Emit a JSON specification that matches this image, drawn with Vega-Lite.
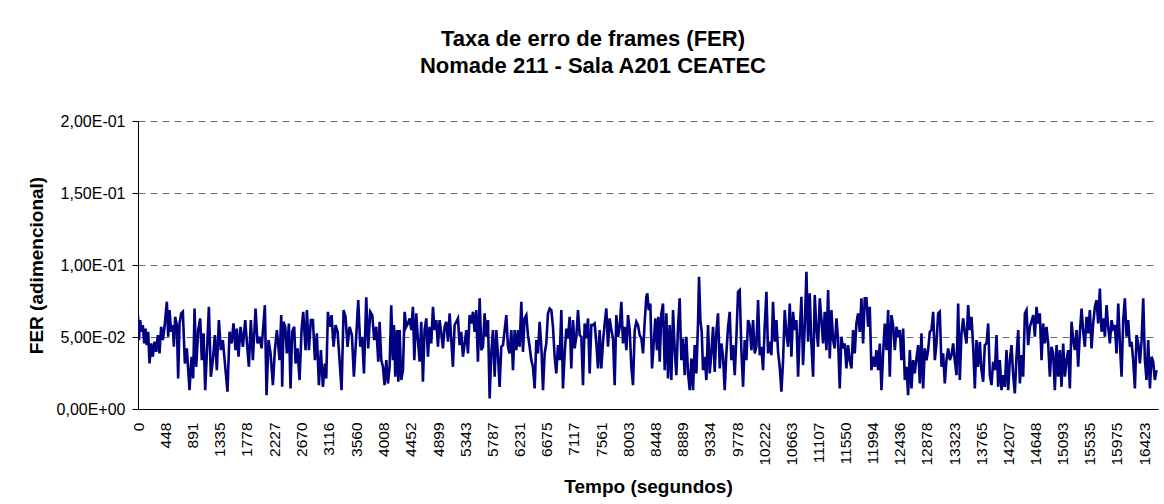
{
"$schema": "https://vega.github.io/schema/vega-lite/v6.json",
"width": 1020,
"height": 288,
"autosize": {"type": "none"},
"padding": {"left": 138, "top": 121, "right": 6, "bottom": 95},
"background": "white",
"title": {"text": ["Taxa de erro de frames (FER)", "Nomade 211 - Sala A201 CEATEC"], "font": "Liberation Sans", "fontSize": 22, "fontWeight": "bold", "color": "black", "anchor": "middle", "frame": "group", "dx": -55, "offset": 35, "lineHeight": 27},
"data": {"values": [
{"t":0,"fer":0.0652},{"t":14,"fer":0.0478},{"t":35,"fer":0.0617},{"t":57,"fer":0.0536},{"t":79,"fer":0.0583},{"t":101,"fer":0.0455},{"t":122,"fer":0.0559},{"t":144,"fer":0.0444},{"t":166,"fer":0.0536},{"t":188,"fer":0.0316},
{"t":215,"fer":0.0455},{"t":242,"fer":0.0363},{"t":269,"fer":0.0467},{"t":297,"fer":0.0397},{"t":324,"fer":0.0513},{"t":351,"fer":0.0386},{"t":378,"fer":0.0571},{"t":406,"fer":0.0478},{"t":433,"fer":0.0571},{"t":471,"fer":0.0745},
{"t":493,"fer":0.0502},{"t":514,"fer":0.0687},{"t":542,"fer":0.0536},{"t":569,"fer":0.0583},{"t":585,"fer":0.0432},{"t":607,"fer":0.0640},{"t":634,"fer":0.0583},{"t":656,"fer":0.0212},{"t":678,"fer":0.0594},{"t":705,"fer":0.0664},
{"t":732,"fer":0.0675},{"t":765,"fer":0.0316},{"t":797,"fer":0.0421},{"t":841,"fer":0.0131},{"t":874,"fer":0.0363},{"t":901,"fer":0.0212},{"t":923,"fer":0.0698},{"t":950,"fer":0.0293},{"t":982,"fer":0.0548},{"t":1015,"fer":0.0629},
{"t":1042,"fer":0.0339},{"t":1070,"fer":0.0525},{"t":1097,"fer":0.0131},{"t":1129,"fer":0.0432},{"t":1157,"fer":0.0710},{"t":1189,"fer":0.0224},{"t":1222,"fer":0.0339},{"t":1255,"fer":0.0513},{"t":1287,"fer":0.0270},{"t":1320,"fer":0.0617},
{"t":1353,"fer":0.0409},{"t":1385,"fer":0.0478},{"t":1429,"fer":0.0270},{"t":1461,"fer":0.0120},{"t":1494,"fer":0.0536},{"t":1527,"fer":0.0455},{"t":1559,"fer":0.0594},{"t":1592,"fer":0.0409},{"t":1614,"fer":0.0559},{"t":1641,"fer":0.0363},
{"t":1674,"fer":0.0571},{"t":1712,"fer":0.0432},{"t":1750,"fer":0.0617},{"t":1777,"fer":0.0467},{"t":1810,"fer":0.0293},{"t":1842,"fer":0.0617},{"t":1875,"fer":0.0339},{"t":1919,"fer":0.0698},{"t":1951,"fer":0.0455},{"t":1984,"fer":0.0502},
{"t":2017,"fer":0.0421},{"t":2049,"fer":0.0594},{"t":2071,"fer":0.0721},{"t":2098,"fer":0.0096},{"t":2131,"fer":0.0478},{"t":2164,"fer":0.0386},{"t":2202,"fer":0.0166},{"t":2234,"fer":0.0409},{"t":2267,"fer":0.0548},{"t":2311,"fer":0.0339},
{"t":2338,"fer":0.0652},{"t":2354,"fer":0.0154},{"t":2376,"fer":0.0606},{"t":2403,"fer":0.0571},{"t":2430,"fer":0.0386},{"t":2463,"fer":0.0594},{"t":2490,"fer":0.0143},{"t":2517,"fer":0.0536},{"t":2550,"fer":0.0571},{"t":2572,"fer":0.0316},
{"t":2604,"fer":0.0421},{"t":2637,"fer":0.0201},{"t":2670,"fer":0.0548},{"t":2697,"fer":0.0675},{"t":2735,"fer":0.0409},{"t":2757,"fer":0.0687},{"t":2790,"fer":0.0409},{"t":2822,"fer":0.0617},{"t":2855,"fer":0.0617},{"t":2888,"fer":0.0339},
{"t":2920,"fer":0.0525},{"t":2953,"fer":0.0166},{"t":2986,"fer":0.0409},{"t":3018,"fer":0.0154},{"t":3051,"fer":0.0316},{"t":3073,"fer":0.0212},{"t":3100,"fer":0.0675},{"t":3127,"fer":0.0571},{"t":3160,"fer":0.0652},{"t":3192,"fer":0.0432},
{"t":3225,"fer":0.0583},{"t":3258,"fer":0.0536},{"t":3290,"fer":0.0339},{"t":3323,"fer":0.0131},{"t":3356,"fer":0.0687},{"t":3388,"fer":0.0640},{"t":3421,"fer":0.0432},{"t":3454,"fer":0.0571},{"t":3492,"fer":0.0513},{"t":3524,"fer":0.0224},
{"t":3562,"fer":0.0502},{"t":3595,"fer":0.0756},{"t":3628,"fer":0.0432},{"t":3660,"fer":0.0502},{"t":3688,"fer":0.0247},{"t":3726,"fer":0.0775},{"t":3758,"fer":0.0421},{"t":3791,"fer":0.0675},{"t":3824,"fer":0.0652},{"t":3856,"fer":0.0478},
{"t":3889,"fer":0.0571},{"t":3922,"fer":0.0328},
{"t":3944,"fer":0.0606},{"t":3971,"fer":0.0339},{"t":3998,"fer":0.0293},{"t":4025,"fer":0.0166},{"t":4053,"fer":0.0339},{"t":4080,"fer":0.0177},{"t":4107,"fer":0.0293},{"t":4134,"fer":0.0721},{"t":4161,"fer":0.0339},{"t":4178,"fer":0.0583},
{"t":4200,"fer":0.0224},{"t":4227,"fer":0.0548},{"t":4249,"fer":0.0189},{"t":4270,"fer":0.0548},{"t":4297,"fer":0.0201},{"t":4325,"fer":0.0270},{"t":4352,"fer":0.0675},{"t":4379,"fer":0.0571},{"t":4406,"fer":0.0594},{"t":4434,"fer":0.0629},
{"t":4461,"fer":0.0548},{"t":4488,"fer":0.0710},{"t":4510,"fer":0.0339},{"t":4542,"fer":0.0664},{"t":4570,"fer":0.0478},{"t":4597,"fer":0.0328},{"t":4624,"fer":0.0606},{"t":4651,"fer":0.0189},{"t":4678,"fer":0.0548},{"t":4706,"fer":0.0629},
{"t":4733,"fer":0.0363},{"t":4760,"fer":0.0571},{"t":4787,"fer":0.0455},{"t":4815,"fer":0.0710},{"t":4842,"fer":0.0548},{"t":4869,"fer":0.0617},{"t":4896,"fer":0.0432},{"t":4923,"fer":0.0617},{"t":4951,"fer":0.0525},{"t":4978,"fer":0.0421},
{"t":5005,"fer":0.0571},{"t":5032,"fer":0.0606},{"t":5060,"fer":0.0467},{"t":5087,"fer":0.0664},{"t":5114,"fer":0.0478},{"t":5141,"fer":0.0293},{"t":5168,"fer":0.0583},{"t":5196,"fer":0.0606},{"t":5223,"fer":0.0629},{"t":5250,"fer":0.0444},
{"t":5277,"fer":0.0536},{"t":5304,"fer":0.0363},{"t":5332,"fer":0.0455},{"t":5359,"fer":0.0548},{"t":5386,"fer":0.0386},{"t":5413,"fer":0.0652},{"t":5441,"fer":0.0594},{"t":5468,"fer":0.0675},{"t":5495,"fer":0.0536},{"t":5522,"fer":0.0687},
{"t":5549,"fer":0.0328},{"t":5577,"fer":0.0768},{"t":5604,"fer":0.0409},{"t":5631,"fer":0.0432},{"t":5658,"fer":0.0664},{"t":5685,"fer":0.0502},{"t":5713,"fer":0.0617},{"t":5740,"fer":0.0073},{"t":5767,"fer":0.0386},{"t":5794,"fer":0.0548},
{"t":5822,"fer":0.0224},{"t":5849,"fer":0.0548},{"t":5876,"fer":0.0374},{"t":5903,"fer":0.0154},{"t":5930,"fer":0.0432},{"t":5958,"fer":0.0444},{"t":5985,"fer":0.0548},{"t":6012,"fer":0.0652},{"t":6039,"fer":0.0432},{"t":6066,"fer":0.0386},
{"t":6094,"fer":0.0548},{"t":6121,"fer":0.0270},{"t":6148,"fer":0.0548},{"t":6175,"fer":0.0409},{"t":6203,"fer":0.0548},{"t":6230,"fer":0.0432},{"t":6257,"fer":0.0745},{"t":6284,"fer":0.0397},{"t":6311,"fer":0.0629},{"t":6339,"fer":0.0652},
{"t":6366,"fer":0.0513},{"t":6393,"fer":0.0432},{"t":6420,"fer":0.0339},{"t":6447,"fer":0.0293},{"t":6475,"fer":0.0143},{"t":6502,"fer":0.0478},{"t":6529,"fer":0.0386},{"t":6556,"fer":0.0606},{"t":6584,"fer":0.0432},{"t":6611,"fer":0.0131},
{"t":6638,"fer":0.0386},{"t":6665,"fer":0.0455},{"t":6692,"fer":0.0664},{"t":6720,"fer":0.0698},{"t":6747,"fer":0.0687},{"t":6774,"fer":0.0571},{"t":6801,"fer":0.0363},{"t":6828,"fer":0.0247},{"t":6856,"fer":0.0444},{"t":6883,"fer":0.0339},
{"t":6910,"fer":0.0687},{"t":6937,"fer":0.0143},{"t":6965,"fer":0.0386},{"t":6992,"fer":0.0559},{"t":7019,"fer":0.0490},{"t":7046,"fer":0.0640},{"t":7073,"fer":0.0282},{"t":7101,"fer":0.0617},{"t":7128,"fer":0.0421},{"t":7155,"fer":0.0502},
{"t":7182,"fer":0.0687},{"t":7210,"fer":0.0513},{"t":7237,"fer":0.0502},{"t":7264,"fer":0.0166},{"t":7291,"fer":0.0594},{"t":7318,"fer":0.0490},{"t":7346,"fer":0.0629},{"t":7373,"fer":0.0247},{"t":7400,"fer":0.0583},{"t":7427,"fer":0.0583},
{"t":7454,"fer":0.0594},{"t":7482,"fer":0.0455},{"t":7509,"fer":0.0282},{"t":7536,"fer":0.0548},{"t":7563,"fer":0.0282},{"t":7591,"fer":0.0467},{"t":7618,"fer":0.0594},{"t":7645,"fer":0.0698},{"t":7672,"fer":0.0432},{"t":7699,"fer":0.0629},
{"t":7727,"fer":0.0548},{"t":7754,"fer":0.0490},{"t":7781,"fer":0.0166},{"t":7808,"fer":0.0652},{"t":7836,"fer":0.0502},{"t":7863,"fer":0.0571},{"t":7890,"fer":0.0745},{"t":7917,"fer":0.0455},{"t":7944,"fer":0.0571},{"t":7972,"fer":0.0409},
{"t":7999,"fer":0.0652},{"t":8026,"fer":0.0548},{"t":8053,"fer":0.0293},{"t":8080,"fer":0.0166},{"t":8108,"fer":0.0548},{"t":8135,"fer":0.0606},{"t":8162,"fer":0.0583},
{"t":8189,"fer":0.0513},{"t":8217,"fer":0.0490},{"t":8244,"fer":0.0386},{"t":8271,"fer":0.0606},{"t":8298,"fer":0.0779},{"t":8314,"fer":0.0803},{"t":8336,"fer":0.0687},{"t":8363,"fer":0.0733},{"t":8391,"fer":0.0282},{"t":8418,"fer":0.0455},
{"t":8445,"fer":0.0629},{"t":8472,"fer":0.0409},{"t":8494,"fer":0.0640},{"t":8516,"fer":0.0328},{"t":8543,"fer":0.0664},{"t":8570,"fer":0.0733},{"t":8598,"fer":0.0270},{"t":8625,"fer":0.0664},{"t":8652,"fer":0.0212},{"t":8679,"fer":0.0583},
{"t":8706,"fer":0.0201},{"t":8734,"fer":0.0687},{"t":8761,"fer":0.0409},{"t":8788,"fer":0.0235},{"t":8815,"fer":0.0571},{"t":8842,"fer":0.0768},{"t":8870,"fer":0.0339},{"t":8897,"fer":0.0490},{"t":8924,"fer":0.0235},{"t":8951,"fer":0.0502},
{"t":8979,"fer":0.0247},{"t":9006,"fer":0.0131},{"t":9033,"fer":0.0351},{"t":9060,"fer":0.0131},{"t":9087,"fer":0.0444},{"t":9115,"fer":0.0247},{"t":9142,"fer":0.0606},{"t":9158,"fer":0.0918},{"t":9180,"fer":0.0617},{"t":9202,"fer":0.0536},
{"t":9223,"fer":0.0270},{"t":9251,"fer":0.0363},{"t":9278,"fer":0.0201},{"t":9305,"fer":0.0583},{"t":9332,"fer":0.0247},{"t":9359,"fer":0.0386},{"t":9387,"fer":0.0571},{"t":9414,"fer":0.0258},{"t":9441,"fer":0.0536},{"t":9468,"fer":0.0664},
{"t":9496,"fer":0.0282},{"t":9523,"fer":0.0455},{"t":9550,"fer":0.0363},{"t":9577,"fer":0.0131},{"t":9604,"fer":0.0386},{"t":9632,"fer":0.0571},{"t":9659,"fer":0.0675},{"t":9686,"fer":0.0339},{"t":9713,"fer":0.0444},{"t":9741,"fer":0.0235},
{"t":9768,"fer":0.0502},{"t":9795,"fer":0.0814},{"t":9822,"fer":0.0826},{"t":9849,"fer":0.0409},{"t":9877,"fer":0.0154},{"t":9904,"fer":0.0478},{"t":9931,"fer":0.0339},{"t":9958,"fer":0.0617},{"t":9985,"fer":0.0583},{"t":10013,"fer":0.0409},
{"t":10040,"fer":0.0617},{"t":10067,"fer":0.0386},{"t":10094,"fer":0.0432},{"t":10122,"fer":0.0756},{"t":10149,"fer":0.0374},{"t":10176,"fer":0.0432},{"t":10203,"fer":0.0270},{"t":10230,"fer":0.0571},{"t":10258,"fer":0.0814},{"t":10285,"fer":0.0386},
{"t":10312,"fer":0.0467},{"t":10339,"fer":0.0374},{"t":10366,"fer":0.0745},{"t":10394,"fer":0.0467},{"t":10421,"fer":0.0617},{"t":10448,"fer":0.0397},{"t":10475,"fer":0.0293},{"t":10503,"fer":0.0120},{"t":10530,"fer":0.0339},{"t":10557,"fer":0.0687},
{"t":10584,"fer":0.0525},{"t":10611,"fer":0.0432},{"t":10639,"fer":0.0733},{"t":10666,"fer":0.0363},{"t":10693,"fer":0.0675},{"t":10720,"fer":0.0548},{"t":10748,"fer":0.0617},{"t":10775,"fer":0.0224},{"t":10802,"fer":0.0536},{"t":10829,"fer":0.0779},
{"t":10856,"fer":0.0305},{"t":10884,"fer":0.0583},{"t":10911,"fer":0.0953},{"t":10938,"fer":0.0467},{"t":10965,"fer":0.0803},{"t":10992,"fer":0.0455},{"t":11020,"fer":0.0224},{"t":11047,"fer":0.0791},{"t":11074,"fer":0.0559},{"t":11101,"fer":0.0432},
{"t":11129,"fer":0.0768},{"t":11156,"fer":0.0617},{"t":11183,"fer":0.0455},{"t":11210,"fer":0.0675},{"t":11237,"fer":0.0409},{"t":11265,"fer":0.0826},{"t":11292,"fer":0.0351},{"t":11319,"fer":0.0687},{"t":11346,"fer":0.0478},{"t":11373,"fer":0.0421},
{"t":11401,"fer":0.0629},{"t":11428,"fer":0.0478},{"t":11455,"fer":0.0143},{"t":11482,"fer":0.0502},{"t":11510,"fer":0.0421},{"t":11537,"fer":0.0455},{"t":11564,"fer":0.0282},{"t":11591,"fer":0.0444},{"t":11618,"fer":0.0339},{"t":11646,"fer":0.0282},
{"t":11673,"fer":0.0548},{"t":11700,"fer":0.0386},{"t":11727,"fer":0.0594},{"t":11754,"fer":0.0664},{"t":11782,"fer":0.0536},{"t":11809,"fer":0.0768},{"t":11836,"fer":0.0455},{"t":11863,"fer":0.0768},{"t":11891,"fer":0.0768},{"t":11918,"fer":0.0571},
{"t":11945,"fer":0.0710},{"t":11972,"fer":0.0270},{"t":11999,"fer":0.0363},{"t":12027,"fer":0.0293},{"t":12054,"fer":0.0409},{"t":12081,"fer":0.0270},
{"t":12109,"fer":0.0455},{"t":12136,"fer":0.0131},{"t":12163,"fer":0.0386},{"t":12190,"fer":0.0594},{"t":12218,"fer":0.0409},{"t":12245,"fer":0.0687},{"t":12272,"fer":0.0224},{"t":12299,"fer":0.0652},{"t":12326,"fer":0.0583},{"t":12354,"fer":0.0409},
{"t":12381,"fer":0.0571},{"t":12408,"fer":0.0502},{"t":12435,"fer":0.0548},{"t":12462,"fer":0.0339},{"t":12490,"fer":0.0559},{"t":12517,"fer":0.0201},{"t":12544,"fer":0.0293},{"t":12571,"fer":0.0096},{"t":12599,"fer":0.0409},{"t":12626,"fer":0.0143},
{"t":12653,"fer":0.0339},{"t":12680,"fer":0.0247},{"t":12707,"fer":0.0351},{"t":12735,"fer":0.0444},{"t":12762,"fer":0.0177},{"t":12789,"fer":0.0525},{"t":12816,"fer":0.0143},{"t":12844,"fer":0.0421},{"t":12871,"fer":0.0339},{"t":12898,"fer":0.0409},
{"t":12925,"fer":0.0536},{"t":12952,"fer":0.0548},{"t":12980,"fer":0.0675},{"t":13007,"fer":0.0339},{"t":13034,"fer":0.0455},{"t":13061,"fer":0.0664},{"t":13088,"fer":0.0675},{"t":13116,"fer":0.0293},{"t":13143,"fer":0.0386},{"t":13170,"fer":0.0177},
{"t":13197,"fer":0.0339},{"t":13225,"fer":0.0421},{"t":13252,"fer":0.0339},{"t":13279,"fer":0.0374},{"t":13306,"fer":0.0455},{"t":13333,"fer":0.0339},{"t":13361,"fer":0.0235},{"t":13388,"fer":0.0733},{"t":13415,"fer":0.0201},{"t":13442,"fer":0.0525},
{"t":13470,"fer":0.0629},{"t":13497,"fer":0.0525},{"t":13524,"fer":0.0455},{"t":13551,"fer":0.0721},{"t":13578,"fer":0.0548},{"t":13606,"fer":0.0640},{"t":13633,"fer":0.0432},{"t":13660,"fer":0.0143},{"t":13687,"fer":0.0478},{"t":13714,"fer":0.0293},
{"t":13742,"fer":0.0467},{"t":13769,"fer":0.0270},{"t":13796,"fer":0.0189},{"t":13823,"fer":0.0444},{"t":13851,"fer":0.0455},{"t":13878,"fer":0.0594},{"t":13905,"fer":0.0235},{"t":13932,"fer":0.0166},{"t":13959,"fer":0.0328},{"t":13987,"fer":0.0270},
{"t":14014,"fer":0.0513},{"t":14041,"fer":0.0154},{"t":14068,"fer":0.0339},{"t":14096,"fer":0.0131},{"t":14123,"fer":0.0235},{"t":14150,"fer":0.0154},{"t":14177,"fer":0.0409},{"t":14204,"fer":0.0131},{"t":14232,"fer":0.0339},{"t":14259,"fer":0.0444},
{"t":14286,"fer":0.0235},{"t":14313,"fer":0.0108},{"t":14340,"fer":0.0363},{"t":14368,"fer":0.0548},{"t":14395,"fer":0.0177},{"t":14422,"fer":0.0374},{"t":14449,"fer":0.0224},{"t":14477,"fer":0.0664},{"t":14504,"fer":0.0687},{"t":14531,"fer":0.0444},
{"t":14558,"fer":0.0571},{"t":14585,"fer":0.0606},{"t":14613,"fer":0.0652},{"t":14640,"fer":0.0502},{"t":14667,"fer":0.0710},{"t":14694,"fer":0.0594},{"t":14721,"fer":0.0664},{"t":14749,"fer":0.0339},{"t":14776,"fer":0.0594},{"t":14803,"fer":0.0455},
{"t":14830,"fer":0.0571},{"t":14857,"fer":0.0455},{"t":14885,"fer":0.0224},{"t":14912,"fer":0.0432},{"t":14939,"fer":0.0386},{"t":14966,"fer":0.0131},{"t":14994,"fer":0.0444},{"t":15021,"fer":0.0224},{"t":15048,"fer":0.0409},{"t":15075,"fer":0.0154},
{"t":15102,"fer":0.0455},{"t":15130,"fer":0.0224},{"t":15157,"fer":0.0339},{"t":15184,"fer":0.0409},{"t":15211,"fer":0.0143},{"t":15239,"fer":0.0606},{"t":15266,"fer":0.0478},{"t":15293,"fer":0.0409},{"t":15320,"fer":0.0548},{"t":15347,"fer":0.0293},
{"t":15375,"fer":0.0536},{"t":15402,"fer":0.0698},{"t":15429,"fer":0.0536},{"t":15456,"fer":0.0432},{"t":15483,"fer":0.0640},{"t":15511,"fer":0.0525},{"t":15538,"fer":0.0687},{"t":15565,"fer":0.0421},{"t":15592,"fer":0.0594},{"t":15620,"fer":0.0710},
{"t":15647,"fer":0.0756},{"t":15674,"fer":0.0594},{"t":15701,"fer":0.0837},{"t":15728,"fer":0.0536},{"t":15756,"fer":0.0629},{"t":15783,"fer":0.0502},{"t":15810,"fer":0.0721},{"t":15837,"fer":0.0571},{"t":15864,"fer":0.0455},{"t":15892,"fer":0.0617},
{"t":15919,"fer":0.0559},{"t":15946,"fer":0.0583},{"t":15973,"fer":0.0386},{"t":16001,"fer":0.0733},{"t":16028,"fer":0.0455},{"t":16055,"fer":0.0224},{"t":16082,"fer":0.0617},{"t":16109,"fer":0.0768},{"t":16137,"fer":0.0502},{"t":16164,"fer":0.0617},
{"t":16191,"fer":0.0432},{"t":16218,"fer":0.0467},{"t":16245,"fer":0.0339},{"t":16273,"fer":0.0143},{"t":16300,"fer":0.0513},{"t":16327,"fer":0.0455},{"t":16354,"fer":0.0316},{"t":16382,"fer":0.0478},{"t":16409,"fer":0.0768},{"t":16436,"fer":0.0339},
{"t":16463,"fer":0.0201},{"t":16490,"fer":0.0478},{"t":16518,"fer":0.0143},{"t":16545,"fer":0.0363},{"t":16572,"fer":0.0328},{"t":16599,"fer":0.0201},{"t":16626,"fer":0.0270}
]},
"mark": {"type": "line", "color": "#000080", "strokeWidth": 2.6, "clip": true},
"encoding": {
"x": {"field": "t", "type": "quantitative", "title": "Tempo (segundos)",
  "scale": {"domain": [0, 16650], "nice": false, "zero": false},
  "axis": {"values": [0,448,891,1335,1778,2227,2670,3116,3560,4008,4452,4899,5343,5787,6231,6675,7117,7561,8003,8448,8889,9334,9778,10222,10663,11107,11550,11994,12436,12878,13323,13765,14207,14648,15093,15535,15975,16423],
    "format": "d", "labelAngle": 270, "ticks": false, "grid": false, "labelPadding": 13, "labelOverlap": false, "labelFlush": false, "labelBound": false, "labelFontSize": 15.5, "titlePadding": 12}},
"y": {"field": "fer", "type": "quantitative", "title": "FER (adimencional)",
  "scale": {"domain": [0, 0.2], "nice": false},
  "axis": {"values": [0, 0.05, 0.1, 0.15, 0.2],
    "labelExpr": "datum.value == 0 ? '0,00E+00' : datum.value == 0.05 ? '5,00E-02' : datum.value == 0.1 ? '1,00E-01' : datum.value == 0.15 ? '1,50E-01' : '2,00E-01'",
    "grid": true, "gridColor": "#6e6e6e", "gridDash": [7, 5], "gridWidth": 1, "gridOpacity": 1,
    "tickSize": 6, "labelPadding": 7, "titlePadding": 10, "labelFlush": false, "labelFontSize": 16}}
},
"config": {
  "view": {"stroke": null},
  "axis": {"domainColor": "black", "domainWidth": 1, "tickColor": "black", "tickWidth": 1, "labelColor": "black", "titleColor": "black",
    "labelFont": "Liberation Sans", "titleFont": "Liberation Sans", "labelFontSize": 15, "titleFontSize": 19, "titleFontWeight": "bold"}
}
}
